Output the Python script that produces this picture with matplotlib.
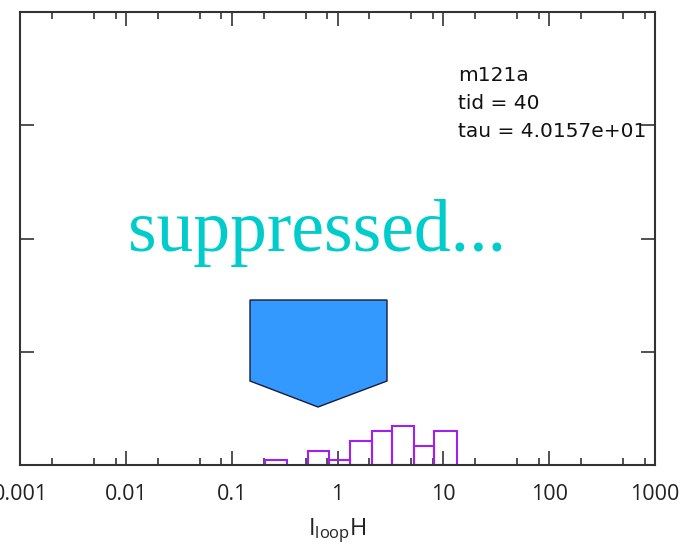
import matplotlib
matplotlib.use("Agg")
import matplotlib.pyplot as plt
import numpy as np
from matplotlib.patches import Polygon
from matplotlib.ticker import FixedLocator, NullFormatter

plt.rcParams['font.family'] = ['Open Sans', 'DejaVu Sans']
plt.rcParams['mathtext.fontset'] = 'custom'
plt.rcParams['mathtext.rm'] = 'Open Sans'
plt.rcParams['mathtext.it'] = 'Open Sans'

# histogram of I_loop H (log-spaced bins)
bin_edges = [0.2065, 0.336, 0.522, 0.838, 1.303, 2.104, 3.273, 5.284, 8.222, 13.37]
counts = [1, 0, 3, 1, 5, 7, 8, 4, 7]

major_x = [0.001, 0.01, 0.1, 1, 10, 100, 1000]
major_labels = ['0.001', '0.01', '0.1', '1', '10', '100', '1000']
minor_factors = [2, 5, 8]
y_max = 94
y_ticks = [23.5, 47, 70.5]

info_lines = ['m121a', 'tid = 40', 'tau = 4.0157e+01']

fig = plt.figure(figsize=(6.81, 5.45), dpi=100)
ax = fig.add_axes([20 / 681, 80 / 545, 635 / 681, 453 / 545])

edges = np.array(bin_edges)
cnt = np.array(counts)
keep = cnt > 0
ax.bar(edges[:-1][keep], cnt[keep], width=np.diff(edges)[keep], align='edge',
       fill=False, edgecolor='#a020f0', linewidth=1.5, zorder=2)

ax.set_xscale('log')
ax.set_xlim(0.001, 1000)
ax.set_ylim(0, y_max)

minor_x = [f * m for m in major_x[:-1] for f in minor_factors]
ax.xaxis.set_major_locator(FixedLocator(major_x))
ax.set_xticklabels(major_labels)
ax.xaxis.set_minor_locator(FixedLocator(minor_x))
ax.xaxis.set_minor_formatter(NullFormatter())
ax.set_yticks(y_ticks)
ax.set_yticklabels([])

ax.tick_params(axis='both', which='major', direction='in', length=10, width=1.2,
               color='#333333', top=True, right=True)
ax.tick_params(axis='x', which='minor', direction='in', length=5, width=1.2,
               color='#333333', top=True)
ax.tick_params(axis='x', which='major', labelsize=15.5, pad=14, labelcolor='#222222')
for s in ax.spines.values():
    s.set_color('#333333')
    s.set_linewidth(1.5)

ax.set_xlabel(r'$\mathrm{I_{loop}H}$', fontsize=17, labelpad=8, color='#222222')

for i, line in enumerate(info_lines):
    fig.text(458 / 681, 1 - (75 + 28 * i) / 545, line, fontsize=14.5,
             family='DejaVu Sans', va='center', ha='left', color='#111111')

fig.text(317 / 681, 1 - 233 / 545, 'suppressed...', fontsize=53,
         family='Liberation Serif', color='#00cccc', ha='center', va='center')

pent = [(250, 300), (387, 300), (387, 381), (318, 407), (250, 381)]
poly = Polygon([(x / 681, 1 - y / 545) for x, y in pent], closed=True,
               transform=fig.transFigure, facecolor='#3399ff',
               edgecolor='#1a1a3a', linewidth=1.0)
fig.patches.append(poly)

fig.savefig('out.png', dpi=100)
